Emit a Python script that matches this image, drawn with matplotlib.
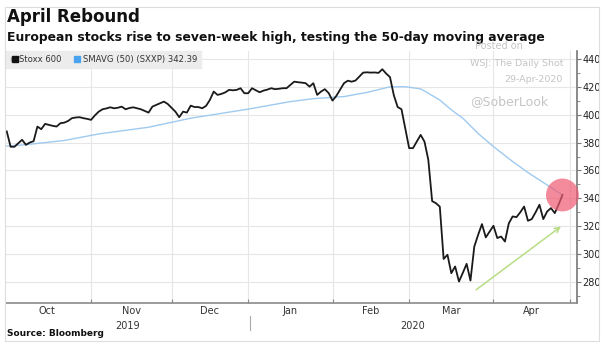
import numpy as np
import pandas as pd
import matplotlib
matplotlib.use("Agg")
import matplotlib.pyplot as plt
from matplotlib.lines import Line2D
from matplotlib.patches import Rectangle
from matplotlib.legend_handler import HandlerTuple
from matplotlib.ticker import FixedLocator, MultipleLocator

# ── data (Stoxx 600 daily close) ─────────────────────────────────
holidays = ["2019-12-25", "2019-12-26", "2020-01-01", "2020-04-10", "2020-04-13"]
days = pd.bdate_range("2019-10-01", "2020-04-28")
days = days[~days.isin(pd.to_datetime(holidays))]

stoxx = [388, 377, 377, 379.5, 382, 378.4, 380, 381, 391.5, 389.6,
         393.4, 392.7, 392, 391.5, 393.9, 394.3, 395.5, 397.5, 398, 398.2,
         397.5, 397, 396.3,
         399.5, 402.2, 403.9, 404.5, 405.3, 404.6, 405, 405.8, 403.9, 404.8,
         405.3, 404.6, 403.9, 402.7, 401.5, 405.8, 407, 408.2, 409.4, 407.7, 405,
         402.2, 398.2, 402.2, 401.5, 406.5, 405.5, 405.5, 404.6, 406.3, 410.6,
         416.6, 414.2, 414.9, 416, 417.8, 417.5, 417.8, 419, 415.4, 415.4,
         419, 417.5, 416.1, 417.3, 418, 419, 418.3, 418.6, 419, 419,
         421.4, 423.7, 423.3, 423, 422.6, 420.1, 422.6, 414.2, 416.6, 418.3,
         415.5, 410.1,
         413.5, 418, 422.6, 424.4, 423.7, 424.5, 427.3, 430.2, 430.4, 430.2,
         430.3, 430, 432.6, 429.5, 427, 414, 405.5, 403.9, 390, 376,
         376, 380.7, 385.5, 380.7, 367.6, 338, 336.5, 334, 296.5, 299.5,
         286.3, 291.1, 280.3, 286.5, 293, 281, 305.4, 313.8, 321.5, 312,
         316.2, 320.3,
         311.5, 312.6, 309, 322, 327, 326.5, 330, 334.1, 323.9, 325.1,
         330, 335.4, 325.1, 330.5, 333, 329.4, 335.5, 342.4]

ma_dates = ["2019-10-01", "2019-10-08", "2019-10-22", "2019-11-04", "2019-11-21",
            "2019-12-06", "2019-12-31", "2020-01-16", "2020-01-24", "2020-02-05",
            "2020-02-13", "2020-02-21", "2020-02-27", "2020-03-04", "2020-03-06",
            "2020-03-11", "2020-03-16", "2020-03-19", "2020-03-25", "2020-03-31",
            "2020-04-07", "2020-04-15", "2020-04-22", "2020-04-28"]
ma_vals = [377.5, 378.5, 381.5, 386.2, 391, 397.5, 404, 409.4, 411.5, 413,
           416, 420, 420.1, 418.5, 415.4, 410.5, 403.5, 397.5, 386.5, 377.1,
           366.4, 358.5, 349.6, 342.4]

month_labels = ["Oct", "Nov", "Dec", "Jan", "Feb", "Mar", "Apr"]
month_ends = ["2019-10-31", "2019-11-29", "2019-12-31", "2020-01-31",
              "2020-02-28", "2020-03-31"]
year_labels = ["2019", "2020"]
yticks = [280, 300, 320, 340, 360, 380, 400, 420, 440]

pos = {d: i for i, d in enumerate(days)}
x = np.arange(len(days))
ma_x = [pos[pd.Timestamp(d)] for d in ma_dates]
grid_x = [pos[pd.Timestamp(d)] for d in month_ends] + [len(days) + 1]

# ── figure ─────────────────────────────────────────────
fig = plt.figure(figsize=(6.05, 3.5), dpi=100)
ax = fig.add_axes([6 / 605, 1 - 303 / 350, 571 / 605, 252 / 350])
ax.set_xlim(-0.2, 148.8)
ax.set_ylim(264.9, 445.7)

ax.plot(x, stoxx, color="#1a1a1a", lw=1.3, zorder=3)
ax.plot(ma_x, ma_vals, color="#9fcaf0", lw=1.0, zorder=2)

# pink highlight + green trend arrow
ax.scatter([x[-1]], [stoxx[-1]], s=560, color="#ee5a72", alpha=0.7,
           edgecolors="none", zorder=5, clip_on=False)
ax.annotate("", xy=(145.2, 321), xytext=(121.9, 273.2),
            arrowprops=dict(arrowstyle="->", color="#b8dc84", lw=1.1,
                            mutation_scale=9), zorder=4)

# axes styling
for s in ("left", "top"):
    ax.spines[s].set_visible(False)
ax.spines["bottom"].set_color("#8a8a8a")
ax.spines["bottom"].set_linewidth(1.2)
ax.spines["right"].set_color("#777777")
ax.spines["right"].set_linewidth(1.2)

ax.yaxis.tick_right()
ax.set_yticks(yticks)
ax.yaxis.set_minor_locator(MultipleLocator(10))
ax.tick_params(axis="y", which="major", direction="out", length=3, width=0.8,
               colors="#777777", labelcolor="#222222", labelsize=7, pad=1)
ax.tick_params(axis="y", which="minor", direction="out", length=2, width=0.6,
               colors="#777777")

ax.xaxis.set_major_locator(FixedLocator(grid_x))
ax.xaxis.set_major_formatter(plt.NullFormatter())
label_x = [(a + b) / 2 for a, b in zip([-1] + grid_x[:-1], grid_x)]
ax.xaxis.set_minor_locator(FixedLocator(label_x))
ax.set_xticklabels(month_labels, minor=True)
ax.tick_params(axis="x", which="major", direction="in", length=3, width=0.8,
               colors="#8a8a8a")
ax.tick_params(axis="x", which="minor", length=0, labelsize=7,
               labelcolor="#333333", pad=2)

ax.grid(True, which="major", color="#e6e6e6", lw=0.8, zorder=0)

# year labels and separator
trans = ax.get_xaxis_transform()
ax.text(31.4, -0.09, year_labels[0], transform=trans, ha="center", va="center",
        fontsize=7, color="#333333")
ax.text(106, -0.09, year_labels[1], transform=trans, ha="center", va="center",
        fontsize=7, color="#333333")
ax.add_line(Line2D([63.5, 63.5], [-0.052, -0.107], transform=trans,
                   color="#aaaaaa", lw=0.8, clip_on=False))

# legend
h_icon = Line2D([], [], marker="|", color="#aaaaaa", ls="none", markersize=3)
h_stoxx = Line2D([], [], marker="s", color="#111111", ls="none", markersize=3.8)
h_ma = Line2D([], [], marker="s", color="#4aa3ee", ls="none", markersize=3.8)
leg = ax.legend([(h_icon, h_stoxx), h_ma], ["Stoxx 600", "SMAVG (50) (SXXP) 342.39"],
                handler_map={tuple: HandlerTuple(ndivide=None, pad=0)},
                ncol=2, loc="upper left", bbox_to_anchor=(-0.002, 1), borderaxespad=0,
                fontsize=6.1, handlelength=1.0, handletextpad=0.2,
                columnspacing=1.3, fancybox=False, framealpha=1,
                facecolor="#ececec", edgecolor="#ececec", borderpad=0.45)
for t in leg.get_texts():
    t.set_color("#333333")

# titles and watermark
W, H = 605, 350
fig.text(7 / W, 1 - 17 / H, "April Rebound", fontsize=12, weight="bold",
         va="center", color="#111111")
fig.text(7 / W, 1 - 37 / H, "European stocks rise to seven-week high, testing the 50-day moving average",
         fontsize=8.9, weight="bold", va="center", color="#111111")
fig.text(7 / W, 1 - 334 / H, "Source: Bloomberg", fontsize=6.5, weight="bold",
         va="center", color="#111111")
fig.text(475 / W, 1 - 46 / H, "Posted on", fontsize=7, color="#c4c4c4", va="center")
fig.text(563 / W, 1 - 63 / H, "WSJ: The Daily Shot", fontsize=6.8, color="#c4c4c4",
         ha="right", va="center")
fig.text(563 / W, 1 - 80 / H, "29-Apr-2020", fontsize=6.8, color="#c4c4c4",
         ha="right", va="center")
fig.text(470 / W, 1 - 102 / H, "@SoberLook", fontsize=9, color="#c4c4c4", va="center")

fig.add_artist(Rectangle((5 / W, 9 / H), 594 / W, 334 / H, transform=fig.transFigure,
                         fill=False, ec="#dddddd", lw=0.8))

fig.savefig("out.png", dpi=100)
